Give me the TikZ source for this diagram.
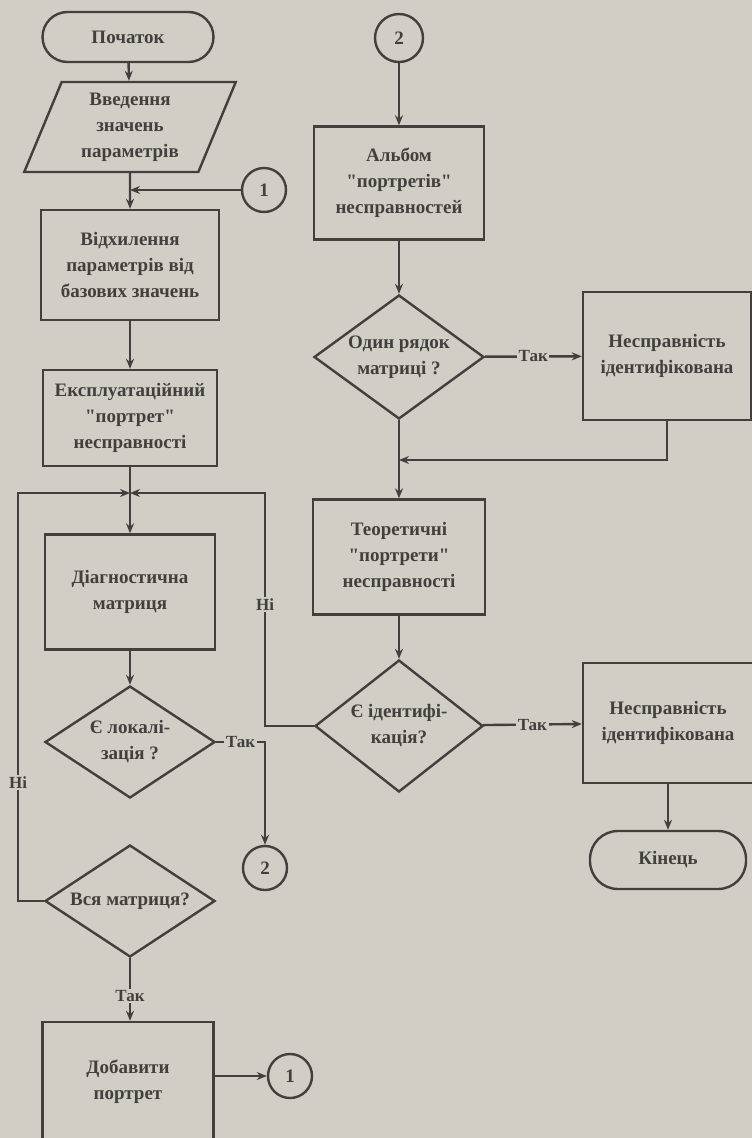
\documentclass[tikz,border=0pt]{standalone}
\usepackage{fontspec}
\newfontfamily\diagfont{Liberation Serif}
\usetikzlibrary{shapes.geometric,arrows.meta}
\definecolor{paper}{RGB}{210,206,197}
\definecolor{ink}{RGB}{66,64,60}
\begin{document}
\begin{tikzpicture}[x=1pt,y=-1pt,
 every node/.style={font=\diagfont\fontsize{19}{26}\selectfont\bfseries, text=ink, align=center},
 box/.style={draw=ink, line width=2.4pt, rectangle, inner sep=2pt},
 term/.style={box, rounded corners=25pt},
 io/.style={draw=ink, line width=2.4pt, trapezium, trapezium left angle=69, trapezium right angle=111, trapezium stretches=true, inner sep=2pt},
 dia/.style={draw=ink, line width=2.4pt, diamond, aspect=1.5, inner sep=-4pt},
 conn/.style={draw=ink, line width=2.4pt, circle, minimum size=44pt, inner sep=0pt},
 line/.style={draw=ink, line width=2.4pt},
 arr/.style={line, -{Stealth[length=10pt,width=8pt]}},
 lbl/.style={fill=paper, inner sep=1.5pt, font=\diagfont\fontsize{17}{18}\selectfont\bfseries}]
\fill[paper] (0,0) rectangle (752,1138);
\useasboundingbox (0,0) rectangle (752,1138);
% left column
\node[term, minimum width=171pt, minimum height=50pt] (start) at (128,37) {Початок};
\node[io, minimum width=212pt, minimum height=90pt] (input) at (130,127) {Введення\\значень\\параметрів};
\node[conn] (c1a) at (264,190) {1};
\node[box, minimum width=178pt, minimum height=110pt] (dev) at (130,265) {Відхилення\\параметрів від\\базових значень};
\node[box, minimum width=174pt, minimum height=96pt] (expl) at (130,418) {Експлуатаційний\\"портрет"\\несправності};
\node[box, minimum width=170pt, minimum height=115pt] (diag) at (130,592) {Діагностична\\матриця};
\node[dia, minimum width=170pt, minimum height=112pt] (loc) at (130,742) {Є локалі-\\зація ?};
\node[conn] (c2a) at (265,868) {2};
\node[dia, minimum width=170pt, minimum height=112pt] (all) at (130,901) {Вся матриця?};
\node[box, minimum width=171pt, minimum height=120pt] (add) at (128,1082) {Добавити\\портрет};
\node[conn] (c1b) at (290,1076) {1};
% right column
\node[conn, minimum size=48pt] (c2b) at (399,38) {2};
\node[box, minimum width=170pt, minimum height=113pt] (album) at (399,183) {Альбом\\"портретів"\\несправностей};
\node[dia, minimum width=170pt, minimum height=124pt] (row) at (399,357) {Один рядок\\матриці ?};
\node[box, minimum width=168pt, minimum height=128pt] (fault1) at (667,356) {Несправність\\ідентифікована};
\node[box, minimum width=172pt, minimum height=115pt] (theo) at (399,557) {Теоретичні\\"портрети"\\несправності};
\node[dia, minimum width=168pt, minimum height=132pt] (ident) at (399,726) {Є ідентифі-\\кація?};
\node[box, minimum width=170pt, minimum height=120pt] (fault2) at (668,723) {Несправність\\ідентифікована};
\node[term, minimum width=156pt, minimum height=58pt, rounded corners=28pt] (end) at (668,860) {Кінець};
% junction coordinates
\coordinate (j1) at (130,190);
\coordinate (j2) at (130,493);
\coordinate (j3) at (399,460);
\coordinate (t1) at (265,742);
\coordinate (k1) at (18,901);
\coordinate (k2) at (18,493);
\coordinate (r1) at (265,726);
\coordinate (r2) at (265,493);
% connectors left
\draw[arr] (start) -- (input);
\draw[arr] (input) -- (dev);
\draw[arr] (c1a) -- (j1);
\draw[arr] (dev) -- (expl);
\draw[arr] (expl) -- (diag);
\draw[arr] (diag) -- (loc);
\draw[arr] (loc.east) -- node[lbl]{Так} (t1) -- (c2a);
\draw[arr] (all.west) -- (k1) -- node[lbl, pos=0.29]{Ні} (k2) -- (j2);
\draw[arr] (ident.west) -- (r1) -- node[lbl, pos=0.52]{Ні} (r2) -- (j2);
\draw[arr] (all) -- node[lbl, pos=0.6]{Так} (all.south |- add.north);
\draw[arr] (c1b -| add.east) -- (c1b);
% connectors right
\draw[arr] (c2b) -- (album);
\draw[arr] (album) -- (row);
\draw[arr] (row) -- node[lbl]{Так} (fault1);
\draw[arr] (row) -- (theo);
\draw[arr] (fault1.south) -- (fault1.south |- j3) -- (j3);
\draw[arr] (theo) -- (ident);
\draw[arr] (ident) -- node[lbl]{Так} (fault2);
\draw[arr] (fault2) -- (end);
\end{tikzpicture}
\end{document}
